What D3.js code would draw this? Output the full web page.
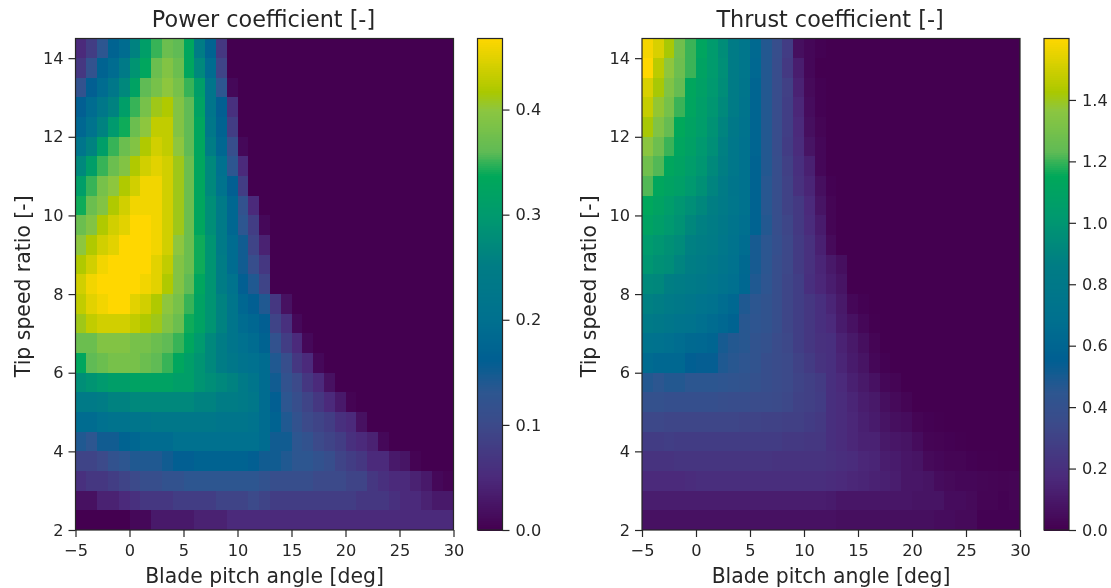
<!DOCTYPE html>
<html>
<head>
<meta charset="utf-8">
<script src="https://cdn.jsdelivr.net/npm/d3@7"></script>
<style>
  html, body { margin: 0; padding: 0; background: #fff; }
  svg { display: block; filter: blur(0.7px); }
  text { font-family: "DejaVu Sans", sans-serif; fill: #262626; }
  .tick text { font-size: 16.2px; }
  .tick line { stroke: #262626; stroke-width: 1.2px; }
  .cell { shape-rendering: crispEdges; }
</style>
</head>
<body>
<script>
const pitch = d3.range(-5, 30);      // left edge of each column, deg
const tsr = d3.range(14, 1.5, -0.5); // lower edge of each row, top row first

// rows from tsr 14 down to tsr 2, columns that are left out are 0
const powerCoef = [
  [.05,.08,.13,.17,.19,.26,.31,.35,.37,.36,.33,.25,.17,.07,0],
  [.07,.12,.17,.19,.24,.29,.33,.37,.39,.37,.33,.27,.19,.09,0],
  [.12,.16,.19,.23,.27,.32,.36,.38,.40,.38,.35,.31,.22,.13,.01],
  [.16,.19,.23,.26,.31,.35,.38,.41,.42,.39,.36,.32,.22,.16,.06],
  [.18,.21,.26,.30,.34,.37,.40,.43,.43,.39,.36,.33,.23,.17,.08],
  [.22,.26,.31,.35,.37,.39,.42,.44,.43,.40,.36,.33,.25,.18,.11,.01],
  [.27,.31,.35,.37,.39,.42,.44,.45,.44,.41,.37,.33,.27,.20,.13,.05],
  [.31,.35,.38,.40,.42,.44,.46,.46,.44,.41,.37,.33,.27,.21,.16,.08],
  [.34,.37,.39,.42,.44,.46,.46,.46,.44,.41,.37,.33,.28,.24,.18,.12,.05],
  [.37,.39,.42,.44,.45,.47,.47,.46,.44,.41,.37,.33,.28,.24,.18,.13,.08,.01],
  [.40,.42,.44,.45,.47,.47,.47,.46,.44,.40,.37,.34,.29,.24,.19,.15,.09,.04],
  [.42,.44,.46,.47,.47,.47,.47,.45,.43,.39,.37,.34,.29,.25,.19,.15,.11,.07],
  [.44,.46,.47,.47,.47,.47,.46,.45,.42,.39,.36,.33,.29,.25,.21,.16,.14,.09],
  [.43,.45,.46,.47,.47,.45,.44,.42,.40,.38,.35,.32,.29,.26,.22,.18,.16,.14,.07,.02],
  [.41,.43,.44,.44,.44,.43,.42,.41,.39,.37,.34,.32,.29,.26,.22,.19,.18,.16,.09,.06,.01],
  [.37,.37,.39,.39,.39,.38,.38,.37,.36,.35,.33,.30,.27,.25,.22,.20,.19,.17,.12,.08,.05,.01],
  [.33,.36,.37,.38,.38,.38,.37,.36,.35,.33,.31,.29,.27,.25,.23,.21,.20,.19,.14,.11,.07,.05,.01],
  [.28,.29,.30,.31,.31,.32,.32,.32,.32,.31,.31,.29,.28,.27,.26,.24,.22,.19,.15,.12,.10,.07,.05,.02],
  [.24,.24,.25,.26,.26,.27,.27,.27,.27,.27,.27,.26,.26,.25,.25,.24,.23,.19,.16,.13,.11,.09,.07,.05,.03,.005],
  [.19,.19,.20,.21,.21,.22,.22,.23,.23,.23,.23,.23,.23,.22,.22,.22,.21,.19,.17,.14,.12,.10,.09,.08,.06,.05,.02],
  [.14,.13,.15,.15,.17,.18,.19,.19,.19,.20,.20,.20,.20,.20,.20,.20,.20,.19,.15,.15,.13,.12,.10,.09,.08,.06,.05,.04,.01],
  [.09,.09,.10,.12,.13,.14,.14,.14,.15,.16,.16,.17,.17,.17,.17,.17,.16,.15,.15,.14,.13,.13,.12,.11,.09,.08,.07,.05,.05,.03,.025,.005],
  [.06,.07,.07,.08,.09,.10,.11,.11,.12,.12,.13,.13,.13,.13,.13,.13,.13,.12,.11,.11,.11,.11,.10,.10,.10,.09,.09,.07,.06,.05,.05,.04,.03,.01,.005],
  [.02,.02,.04,.04,.05,.06,.07,.07,.07,.08,.08,.08,.08,.09,.09,.09,.10,.09,.08,.08,.08,.08,.08,.08,.08,.08,.07,.07,.07,.06,.05,.05,.04,.03,.03],
  [0,0,0,0,0,.01,.01,.03,.03,.03,.03,.04,.04,.04,.05,.05,.05,.05,.05,.05,.05,.05,.05,.05,.05,.05,.05,.05,.05,.05,.05,.05,.05,.05,.05]
];

const thrustCoef = [
  [1.58,1.52,1.42,1.28,1.20,1.12,1.03,.95,.84,.76,.63,.47,.38,.27,.06,.03,.01],
  [1.60,1.46,1.37,1.27,1.20,1.10,1.03,.96,.84,.76,.62,.47,.37,.25,.12,.03],
  [1.52,1.42,1.33,1.25,1.13,1.08,1.02,.95,.84,.75,.60,.47,.37,.29,.14,.04,.01],
  [1.48,1.38,1.30,1.20,1.12,1.06,1.00,.93,.84,.74,.60,.47,.37,.28,.16,.05,.01],
  [1.42,1.33,1.25,1.15,1.10,1.05,.98,.90,.80,.72,.60,.47,.37,.28,.17,.06,.02],
  [1.36,1.27,1.20,1.12,1.08,1.02,.96,.88,.78,.70,.60,.47,.37,.27,.18,.08,.03],
  [1.28,1.22,1.13,1.10,1.05,1.00,.93,.87,.78,.70,.58,.47,.38,.29,.20,.13,.03],
  [1.22,1.13,1.10,1.07,1.02,.97,.90,.84,.75,.70,.58,.46,.38,.30,.21,.15,.06,.01],
  [1.14,1.10,1.05,1.00,.96,.92,.87,.82,.76,.70,.58,.46,.38,.30,.25,.17,.08,.02],
  [1.10,1.06,1.02,.98,.92,.88,.85,.80,.74,.68,.58,.47,.38,.32,.25,.18,.11,.02],
  [1.03,1.00,.97,.94,.88,.86,.84,.78,.72,.66,.50,.45,.39,.33,.26,.21,.13,.04],
  [1.00,.97,.95,.90,.86,.84,.80,.75,.70,.63,.50,.45,.38,.33,.26,.21,.15,.10,.06],
  [.93,.92,.87,.85,.82,.80,.76,.72,.68,.62,.48,.44,.38,.32,.28,.20,.16,.12,.08],
  [.88,.86,.83,.80,.77,.73,.70,.66,.62,.48,.45,.42,.38,.32,.28,.24,.20,.15,.10,.03,.01],
  [.83,.80,.77,.74,.72,.68,.65,.62,.58,.46,.44,.42,.38,.32,.28,.24,.20,.17,.11,.07,.03,.005],
  [.72,.70,.68,.66,.63,.62,.60,.50,.47,.46,.42,.40,.36,.33,.28,.24,.21,.20,.14,.10,.06,.02],
  [.64,.62,.62,.62,.55,.54,.54,.48,.46,.44,.42,.38,.36,.34,.30,.26,.22,.20,.15,.11,.08,.03,.01],
  [.47,.45,.47,.47,.45,.45,.45,.44,.43,.42,.40,.38,.36,.34,.31,.29,.26,.20,.17,.13,.10,.07,.03,.02],
  [.40,.40,.39,.39,.39,.39,.39,.38,.37,.37,.36,.36,.35,.33,.30,.29,.27,.20,.18,.15,.12,.10,.06,.04,.02],
  [.33,.33,.32,.32,.32,.32,.32,.32,.32,.31,.31,.30,.30,.29,.29,.27,.25,.20,.18,.16,.13,.11,.08,.06,.05,.02,.01,.005],
  [.27,.27,.28,.27,.27,.27,.27,.27,.27,.27,.27,.27,.27,.25,.25,.24,.24,.20,.18,.16,.14,.14,.10,.09,.08,.05,.02,.015,.01,.005],
  [.22,.22,.22,.23,.23,.23,.23,.23,.23,.23,.23,.23,.22,.22,.22,.22,.22,.21,.19,.18,.16,.15,.12,.11,.09,.08,.04,.03,.02,.02,.01,.005,.003],
  [.17,.17,.17,.17,.18,.19,.19,.19,.19,.19,.19,.19,.19,.19,.19,.19,.19,.18,.17,.16,.15,.14,.13,.12,.09,.09,.08,.05,.04,.03,.03,.025,.02,.015,.02],
  [.12,.12,.12,.12,.12,.12,.12,.12,.12,.12,.12,.12,.12,.12,.12,.12,.12,.11,.09,.09,.09,.09,.09,.09,.09,.08,.08,.08,.05,.05,.04,.02,.02,.01,.02],
  [.07,.07,.07,.07,.07,.07,.07,.07,.07,.07,.07,.07,.07,.07,.07,.07,.07,.07,.06,.06,.06,.06,.06,.06,.06,.06,.06,.05,.05,.04,.04,.01,.01,.01,.01]
];

const powerTicks = [0, 0.1, 0.2, 0.3, 0.4];
const thrustTicks = [0, 0.2, 0.4, 0.6, 0.8, 1.0, 1.2, 1.4];
const pitchTicks = [-5, 0, 5, 10, 15, 20, 25, 30];
const tsrTicks = [2, 4, 6, 8, 10, 12, 14];

// colour ramp
const rampStops = [0, .107, .214, .28, .345, .43, .535, .64, .72, .77, .855, .89, 1];
const rampColors = ["#440050", "#4b2a7b", "#3c4a8a", "#2d5690", "#005f92", "#00718f", "#007c85",
  "#009a6e", "#00a85a", "#60bb55", "#8dc63f", "#aac800", "#ffd700"];

const width = 1111, height = 588;
const plotTop = 38.5, plotBottom = 530;

const svg = d3.select("body").append("svg")
    .attr("width", width)
    .attr("height", height);

drawPanel({ title: "Power coefficient [-]", z: powerCoef, vmax: 0.4676, ticks: powerTicks,
            left: 75.5, right: 453.5, barLeft: 477.5, barFormat: ".1f" });
drawPanel({ title: "Thrust coefficient [-]", z: thrustCoef, vmax: 1.6, ticks: thrustTicks,
            left: 642, right: 1020, barLeft: 1044, barFormat: ".1f" });

function drawPanel(p) {
    let xScale = d3.scaleLinear().domain([-5, 30]).range([p.left, p.right]);
    let yScale = d3.scaleLinear().domain([2, 14.5]).range([plotBottom, plotTop]);
    let color = d3.scaleLinear().domain(rampStops.map(t => t * p.vmax)).range(rampColors).clamp(true);

    let g = svg.append("g");

    tsr.forEach((v, r) => {
        g.selectAll(null)
            .data(pitch)
            .enter().append("rect")
            .attr("class", "cell")
            .attr("x", d => xScale(d))
            .attr("y", yScale(v + 0.5))
            .attr("width", d => xScale(d + 1) - xScale(d))
            .attr("height", yScale(v) - yScale(v + 0.5))
            .attr("fill", (d, i) => color(p.z[r][i] || 0));
    });

    // frame
    g.append("rect")
        .attr("x", p.left).attr("y", plotTop)
        .attr("width", p.right - p.left).attr("height", plotBottom - plotTop)
        .attr("fill", "none").attr("stroke", "#262626").attr("stroke-width", 1.2);

    g.append("g")
        .attr("transform", `translate(0, ${plotBottom})`)
        .call(d3.axisBottom(xScale).tickValues(pitchTicks).tickSize(7).tickPadding(7).tickSizeOuter(0))
        .call(a => a.select(".domain").remove());
    g.append("g")
        .attr("transform", `translate(${p.left}, 0)`)
        .call(d3.axisLeft(yScale).tickValues(tsrTicks).tickSize(7).tickPadding(5).tickSizeOuter(0))
        .call(a => a.select(".domain").remove());

    let midX = (p.left + p.right) / 2;
    g.append("text")
        .attr("x", midX - 1).attr("y", 27)
        .attr("text-anchor", "middle").style("font-size", "22.3px")
        .text(p.title);
    g.append("text")
        .attr("x", midX).attr("y", 583)
        .attr("text-anchor", "middle").style("font-size", "20.4px")
        .text("Blade pitch angle [deg]");
    g.append("text")
        .attr("transform", `translate(${p.left - 46}, ${(plotTop + plotBottom) / 2 + 2}) rotate(-90)`)
        .attr("text-anchor", "middle").style("font-size", "20.4px")
        .text("Tip speed ratio [-]");

    // colour bar
    let barWidth = 25;
    let barScale = d3.scaleLinear().domain([0, p.vmax]).range([plotBottom, plotTop]);
    let steps = d3.range(0, 256).map(i => i / 256 * p.vmax);
    let bar = svg.append("g");
    bar.selectAll("rect")
        .data(steps)
        .enter().append("rect")
        .attr("class", "cell")
        .attr("x", p.barLeft)
        .attr("y", d => barScale(d + p.vmax / 256))
        .attr("width", barWidth)
        .attr("height", d => barScale(d) - barScale(d + p.vmax / 256) + 1)
        .attr("fill", d => color(d));
    bar.append("rect")
        .attr("x", p.barLeft).attr("y", plotTop)
        .attr("width", barWidth).attr("height", plotBottom - plotTop)
        .attr("fill", "none").attr("stroke", "#262626").attr("stroke-width", 1.2);
    bar.append("g")
        .attr("transform", `translate(${p.barLeft + barWidth}, 0)`)
        .call(d3.axisRight(barScale).tickValues(p.ticks).tickFormat(d3.format(p.barFormat))
            .tickSize(7).tickPadding(6).tickSizeOuter(0))
        .call(a => a.select(".domain").remove());
}
</script>
</body>
</html>
